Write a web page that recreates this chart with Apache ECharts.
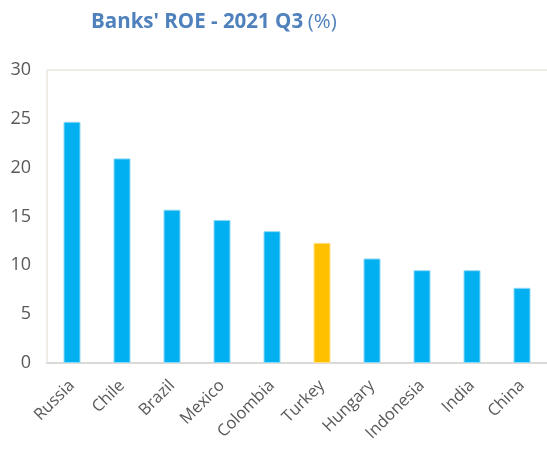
<!DOCTYPE html>
<html>
<head>
<meta charset="utf-8">
<script src="https://cdn.jsdelivr.net/npm/echarts@6/dist/echarts.min.js"></script>
<style>html,body{margin:0;padding:0;background:#fff;}#c{width:547px;height:449px;}</style>
</head>
<body>
<div id="c"></div>
<script>
const categories = ['Russia','Chile','Brazil','Mexico','Colombia','Turkey','Hungary','Indonesia','India','China'];
const roeValues = [24.7, 20.95, 15.7, 14.65, 13.5, 12.3, 10.7, 9.5, 9.5, 7.7];
const highlightCategory = 'Turkey';
const yTicks = [0, 5, 10, 15, 20, 25, 30];

const FONT = '"Open Sans", "Noto Sans", sans-serif';
const chart = echarts.init(document.getElementById('c'), null, {renderer: 'canvas'});
chart.setOption({
  animation: false,
  textStyle: {fontFamily: FONT},
  title: {
    text: "{b|Banks' ROE - 2021 Q3} {n|(%)}",
    left: 86, top: 7,
    textStyle: {
      rich: {
        b: {fontFamily: FONT, fontSize: 20.5, fontWeight: 'bold', color: '#4F81BD'},
        n: {fontFamily: FONT, fontSize: 20.5, fontWeight: 'normal', color: '#4F81BD'}
      }
    }
  },
  grid: {left: 47, top: 70, width: 503, bottom: 86, show: false},
  xAxis: [{
    type: 'category',
    data: categories,
    axisLine: {show: true, lineStyle: {color: '#D9D9D9', width: 2}},
    axisTick: {show: false},
    axisLabel: {rotate: 45, fontSize: 16.5, color: '#595959', margin: 20, interval: 0, fontFamily: FONT}
  }, {
    type: 'category',
    position: 'top',
    data: categories,
    axisLine: {show: true, lineStyle: {color: '#F0EEE4', width: 2}},
    axisTick: {show: false},
    axisLabel: {show: false}
  }],
  yAxis: {
    type: 'value',
    min: yTicks[0], max: yTicks[yTicks.length - 1], interval: 5,
    axisLine: {show: true, lineStyle: {color: '#F0EEE4', width: 2}},
    axisTick: {show: false},
    splitLine: {show: false},
    axisLabel: {fontSize: 18, color: '#595959', margin: 16, fontFamily: FONT}
  },
  series: [{
    type: 'bar',
    barWidth: 17,
    xAxisIndex: 0,
    data: categories.map((c, i) => ({
      value: roeValues[i],
      itemStyle: {
        color: c === highlightCategory ? '#FFC000' : '#00B0F0',
        borderColor: c === highlightCategory ? '#FFE08A' : '#8FD9F6',
        borderWidth: 1
      }
    }))
  }]
});
</script>
</body>
</html>
